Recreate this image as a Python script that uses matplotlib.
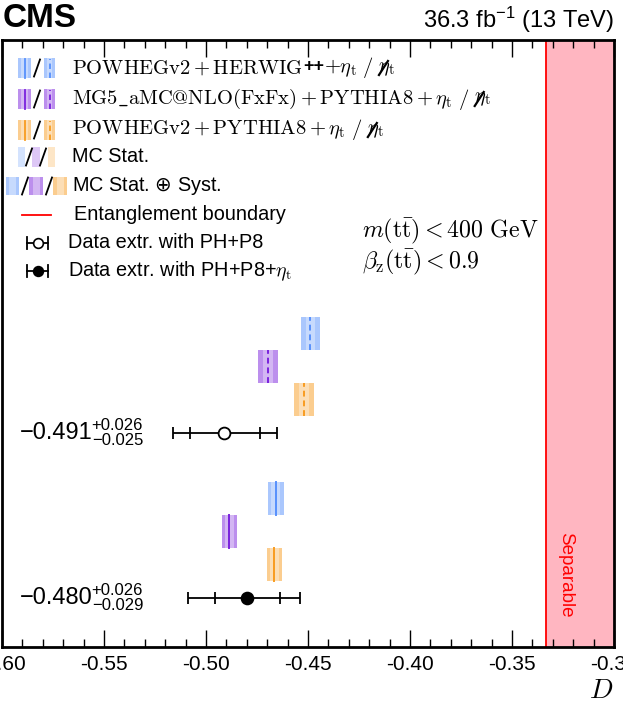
import matplotlib
matplotlib.use("Agg")
import matplotlib.pyplot as plt
import matplotlib.transforms as mtransforms
from matplotlib.patches import Rectangle
from matplotlib.lines import Line2D
from matplotlib.ticker import MultipleLocator, FormatStrFormatter

plt.rcParams['font.family'] = ['Liberation Sans', 'DejaVu Sans']
plt.rcParams['axes.unicode_minus'] = False
plt.rcParams['mathtext.fontset'] = 'custom'
plt.rcParams['mathtext.rm'] = 'Liberation Sans'
plt.rcParams['mathtext.it'] = 'Liberation Sans:italic'
plt.rcParams['mathtext.bf'] = 'Liberation Sans:bold'

# ---------------- data ----------------
model_names = ['PH+HERWIG', 'MG5', 'PH+P8']
model_colors = ['#5790fc', '#7a21dd', '#f89c20']

# predictions without eta_t (upper block, dashed central line)
noeta_center = [-0.4488, -0.4696, -0.4520]
noeta_stat = [0.0024, 0.0024, 0.0024]
noeta_tot = [0.0048, 0.0049, 0.0049]

# predictions with eta_t (lower block, solid central line)
eta_center = [-0.4657, -0.4885, -0.4665]
eta_stat = [0.0022, 0.0022, 0.0022]
eta_tot = [0.0037, 0.0037, 0.0037]

# data extractions
data_labels = ['PH+P8', 'PH+P8+eta_t']
data_value = [-0.491, -0.480]
data_stat_lo = [0.0170, 0.0156]
data_stat_hi = [0.0175, 0.0163]
data_tot_lo = [0.025, 0.029]
data_tot_hi = [0.026, 0.026]
data_main_text = ['\u22120.491', '\u22120.480']
data_up_text = ['+0.026', '+0.026']
data_dn_text = ['\u22120.025', '\u22120.029']

boundary = -1.0 / 3.0

# ---------------- figure ----------------
W, H = 623, 705
fig = plt.figure(figsize=(W / 100, H / 100), dpi=100)
ax = fig.add_axes([2 / W, 1 - 647 / H, 612 / W, 607 / H])
ax.set_xlim(-0.60, -0.30)
ax.set_ylim(0, 18.4)

# separable region
ax.axvspan(boundary, -0.30, facecolor='#ffb6c1', edgecolor='none', zorder=0)
ax.axvline(boundary, color='red', lw=1.3, zorder=1)
ax.text(-0.3235, 2.2, 'Separable', color='red', rotation=-90, fontsize=13.5,
        ha='center', va='center')

block_base = [6.5, 1.5]  # upper (no eta), lower (eta)


def draw_box(center, stat, tot, y, color, dashed):
    ax.add_patch(Rectangle((center - tot, y - 0.5), 2 * tot, 1.0,
                           facecolor=color, alpha=0.5, edgecolor='none', zorder=2))
    ax.add_patch(Rectangle((center - stat, y - 0.5), 2 * stat, 1.0,
                           facecolor='white', alpha=0.35, edgecolor='none', zorder=3))
    ax.plot([center, center], [y - 0.5, y + 0.5], color=color,
            lw=1.4, ls=(0, (3, 2)) if dashed else '-', zorder=4)


for k in range(3):
    draw_box(noeta_center[k], noeta_stat[k], noeta_tot[k],
             block_base[0] + 3 - k, model_colors[k], True)
    draw_box(eta_center[k], eta_stat[k], eta_tot[k],
             block_base[1] + 3 - k, model_colors[k], False)

fig.canvas.draw()
renderer = fig.canvas.get_renderer()
blend = mtransforms.blended_transform_factory(ax.transAxes, ax.transData)
for i in range(2):
    y = block_base[i]
    v = data_value[i]
    ax.errorbar([v], [y], xerr=[[data_tot_lo[i]], [data_tot_hi[i]]], fmt='none',
                ecolor='black', elinewidth=1.3, capsize=4.3, capthick=1.3, zorder=5)
    ax.plot([v - data_stat_lo[i], v + data_stat_hi[i]], [y, y], ls='none',
            marker='|', ms=8.6, mew=1.3, color='black', zorder=5)
    ax.plot([v], [y], marker='o', ms=8.5, mew=1.3, color='black',
            mfc='white' if i == 0 else 'black', zorder=6)
    tm = ax.text(18 / 612, y, data_main_text[i], transform=blend,
                 fontsize=17, ha='left', va='center')
    bb = tm.get_window_extent(renderer)
    x1 = (bb.x1 - ax.bbox.x0) / ax.bbox.width - 1 / 612
    up = mtransforms.offset_copy(blend, fig=fig, x=0, y=5.0, units='points')
    dn = mtransforms.offset_copy(blend, fig=fig, x=0, y=-5.6, units='points')
    ax.text(x1, y, data_up_text[i], transform=up, fontsize=12, ha='left', va='center')
    ax.text(x1, y, data_dn_text[i], transform=dn, fontsize=12, ha='left', va='center')

# axes styling
ax.set_yticks([])
ax.xaxis.set_major_locator(MultipleLocator(0.05))
ax.xaxis.set_minor_locator(MultipleLocator(0.01))
ax.xaxis.set_major_formatter(FormatStrFormatter('%.2f'))
ax.tick_params(axis='x', which='major', direction='in', length=12, width=1.0,
               top=True, labelsize=15, pad=6)
ax.tick_params(axis='x', which='minor', direction='in', length=6, width=1.0, top=True)
for s in ax.spines.values():
    s.set_linewidth(2)

ax.text(0.998, -0.072, r'$D$', transform=ax.transAxes, fontsize=20, ha='right',
        va='center', math_fontfamily='cm')

# header
fig.text(3 / W, 1 - 27 / H, 'CMS', fontsize=24, fontweight='bold', ha='left',
         va='baseline')
fig.text(614 / W, 1 - 28 / H, r'36.3 fb$^{-1}$ (13 TeV)', fontsize=17,
         ha='right', va='baseline', math_fontfamily='custom')

# selection text
fig.text(362 / W, 1 - 231 / H, r'$m(\mathrm{t\bar{t}}) < 400\ \mathrm{GeV}$',
         fontsize=17.2, ha='left', va='center', math_fontfamily='cm')
fig.text(362 / W, 1 - 262 / H, r'$\beta_{\mathrm{z}}(\mathrm{t\bar{t}}) < 0.9$',
         fontsize=17.2, ha='left', va='center', math_fontfamily='cm')


# ---------------- legend (drawn by hand) ----------------
def fx(x):
    return x / W


def fy(y):
    return 1 - y / H


def leg_box(x0, x1, yc, color, kind, h=19):
    y0 = yc + h / 2
    if kind in ('full', 'dash'):
        fig.add_artist(Rectangle((fx(x0), fy(y0)), (x1 - x0) / W, h / H,
                                 transform=fig.transFigure, facecolor=color,
                                 alpha=0.5, edgecolor='none'))
        xm = (x0 + x1) / 2
        sw = (x1 - x0) * 0.25
        fig.add_artist(Rectangle((fx(xm - sw), fy(y0)), 2 * sw / W, h / H,
                                 transform=fig.transFigure, facecolor='white',
                                 alpha=0.35, edgecolor='none'))
        fig.add_artist(Line2D([fx(xm), fx(xm)], [fy(y0), fy(y0 - h)],
                              transform=fig.transFigure, color=color, lw=1.3,
                              ls=(0, (3, 2)) if kind == 'dash' else '-'))
    else:
        fig.add_artist(Rectangle((fx(x0), fy(y0)), (x1 - x0) / W, h / H,
                                 transform=fig.transFigure, facecolor=color,
                                 alpha=0.25, edgecolor='none'))


def slash(xc, yc, h=17):
    fig.add_artist(Line2D([fx(xc - 3), fx(xc + 3)], [fy(yc + h / 2), fy(yc - h / 2)],
                          transform=fig.transFigure, color='black', lw=1.3))


def text_after(prev, s, yc, gap=0, **kw):
    bb = prev.get_window_extent(renderer)
    return fig.text((bb.x1 + gap) / W, fy(yc), s, ha='left', va='center', **kw)


def slashed_eta_tail(prev, yc):
    # "/ eta_t" with a slash struck through the second eta
    t_sl = text_after(prev, r'$/$', yc, gap=5, fontsize=14.8, math_fontfamily='cm')
    t_eta = text_after(t_sl, r'$\eta_{\mathrm{t}}$', yc, gap=5, fontsize=14.8,
                       math_fontfamily='cm')
    bq = t_eta.get_window_extent(renderer)
    x0 = bq.x0
    fig.add_artist(Line2D([(x0 + 1) / W, (x0 + 10) / W],
                          [fy(yc + 7), fy(yc - 7)], transform=fig.transFigure,
                          color='black', lw=1.6))


legend_model_text = [
    r'$\mathrm{POWHEGv2} + \mathrm{HERWIG}$',
    r'$\mathrm{MG5\_aMC@NLO(FxFx)} + \mathrm{PYTHIA8} + \eta_{\mathrm{t}}$',
    r'$\mathrm{POWHEGv2} + \mathrm{PYTHIA8} + \eta_{\mathrm{t}}$',
]
leg_rows = [68, 99, 130]
for k in range(3):
    yc = leg_rows[k]
    leg_box(18, 31, yc, model_colors[k], 'full')
    slash(37, yc)
    leg_box(44, 55, yc, model_colors[k], 'dash')
    t1 = fig.text(fx(72), fy(yc), legend_model_text[k], fontsize=14.8, ha='left',
                  va='center', math_fontfamily='cm')
    if k == 0:
        t2 = text_after(t1, '++', yc - 1, fontsize=13, fontweight='bold')
        t1 = text_after(t2, r'$+\eta_{\mathrm{t}}$', yc, fontsize=14.8,
                        math_fontfamily='cm')
    slashed_eta_tail(t1, yc)

# MC Stat row
yc = 157
leg_box(18, 25, yc, model_colors[0], 'light')
slash(29, yc)
leg_box(32, 40, yc, model_colors[1], 'light')
slash(43, yc)
leg_box(48, 55, yc, model_colors[2], 'light')
fig.text(fx(72), fy(yc), 'MC Stat.', fontsize=14.3, ha='left', va='center')

# MC Stat + Syst row
yc = 186
for (a, b), c in zip([(6, 19), (29, 43), (53, 67)], model_colors):
    fig.add_artist(Rectangle((fx(a), fy(yc + 9)), (b - a) / W, 18 / H,
                             transform=fig.transFigure, facecolor=c, alpha=0.5,
                             edgecolor='none'))
    xm = (a + b) / 2
    fig.add_artist(Rectangle((fx(xm - 3.5), fy(yc + 9)), 7 / W, 18 / H,
                             transform=fig.transFigure, facecolor='white', alpha=0.35,
                             edgecolor='none'))
slash(25, yc)
slash(49, yc)
fig.text(fx(72), fy(yc), r'MC Stat. $\oplus$ Syst.', fontsize=14.3, ha='left',
         va='center', math_fontfamily='dejavusans')

# Entanglement boundary
yc = 215
fig.add_artist(Line2D([fx(22), fx(51)], [fy(yc), fy(yc)], transform=fig.transFigure,
                      color='red', lw=1.3))
fig.text(fx(74), fy(yc), 'Entanglement boundary', fontsize=14.3, ha='left', va='center')

# data legend entries
for yc, mfc, lab in [(243, 'white', 'Data extr. with PH+P8'),
                     (271, 'black', r'Data extr. with PH+P8+$\eta_{\mathrm{t}}$')]:
    fig.add_artist(Line2D([fx(27), fx(48)], [fy(yc), fy(yc)], transform=fig.transFigure,
                          color='black', lw=1.3))
    for xc in (27, 48):
        fig.add_artist(Line2D([fx(xc), fx(xc)], [fy(yc - 6), fy(yc + 6)],
                              transform=fig.transFigure, color='black', lw=1.3))
    fig.add_artist(Line2D([fx(38)], [fy(yc)], transform=fig.transFigure, marker='o',
                          ms=7, mew=1.2, color='black', mfc=mfc, ls='none'))
    fig.text(fx(68), fy(yc), lab, fontsize=14.3, ha='left', va='center',
             math_fontfamily='cm')

fig.savefig('out.png', dpi=100)
